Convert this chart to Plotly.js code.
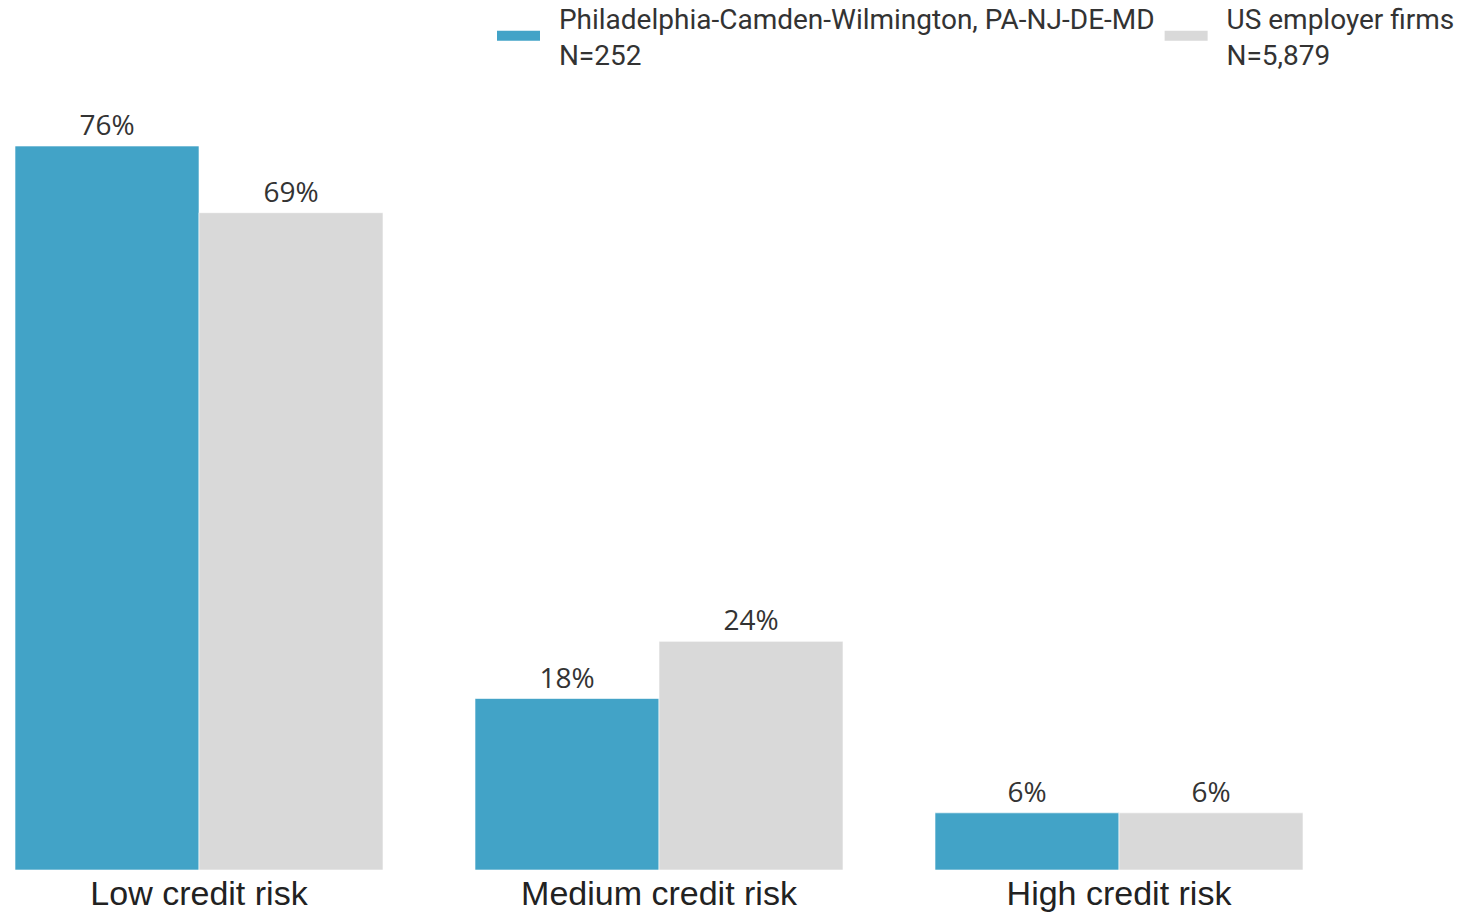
<!DOCTYPE html>
<html>
<head>
<meta charset="utf-8">
<script src="https://cdn.plot.ly/plotly-3.0.1.min.js"></script>
<style>html,body{margin:0;padding:0;background:#fff;}#chart{width:1460px;height:914px;}</style>
</head>
<body>
<div id="chart"></div>
<script>
const categories = ["Low credit risk", "Medium credit risk", "High credit risk"];
const seriesNames = ["Philadelphia-Camden-Wilmington, PA-NJ-DE-MD<br>N=252", "US employer firms<br>N=5,879"];
const phillyValues = [76, 18, 6];
const usValues = [69, 24, 6];
const colors = ["#42A3C7", "#D9D9D9"];

function mk(name, vals, color) {
  return {
    type: "bar", name: name, x: categories, y: vals, showlegend: false,
    marker: {color: color, line: {color: "rgba(255,255,255,0.6)", width: 1}},
    text: vals.map(v => v + "%"), textposition: "outside",
    textfont: {family: "Open Sans", size: 28, color: "#333"},
    cliponaxis: false, hoverinfo: "skip"
  };
}
const pad = "\u00a0\u00a0";
function legendEntry(name, color) {
  return {type: "scatter", mode: "lines", name: name.split("<br>").map(s => pad + s).join("<br>"),
    x: [null], y: [null],
    line: {color: color, width: 14}, showlegend: true, hoverinfo: "skip"};
}
const data = [
  mk(seriesNames[0], phillyValues, colors[0]), mk(seriesNames[1], usValues, colors[1]),
  legendEntry(seriesNames[0], colors[0]), legendEntry(seriesNames[1], colors[1])
];
const layout = {
  width: 1460, height: 914,
  margin: {l: 0, r: 0, t: 100, b: 44, pad: 0, autoexpand: false},
  paper_bgcolor: "#fff", plot_bgcolor: "#fff",
  barmode: "group", bargap: 0.2, bargroupgap: 0,
  showlegend: true,
  legend: {orientation: "h", x: 1, xanchor: "right", y: 1.139, yanchor: "top", yref: "paper",
    font: {family: "Roboto", size: 28, color: "#333"}, itemwidth: 43, tracegroupgap: 0,
    valign: "middle", bgcolor: "rgba(0,0,0,0)"},
  xaxis: {type: "category", range: [-0.4326, 2.7413], showgrid: false, zeroline: false, showline: false,
    ticks: "", tickfont: {family: "Liberation Sans", size: 34, color: "#222"}},
  yaxis: {range: [0, 80.83], visible: false, showgrid: false, zeroline: false, fixedrange: true},
  font: {family: "Roboto"}
};
Plotly.newPlot("chart", data, layout, {displayModeBar: false, staticPlot: true});
</script>
</body>
</html>
